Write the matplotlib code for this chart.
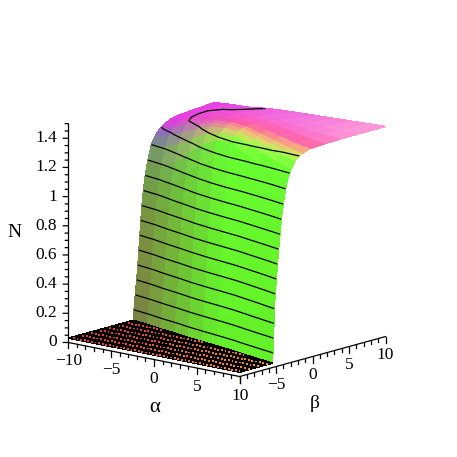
import numpy as np
import matplotlib
matplotlib.use("Agg")
import matplotlib.pyplot as plt
from mpl_toolkits.mplot3d import proj3d

plt.rcParams['font.family'] = ['Liberation Serif', 'DejaVu Sans']

# alpha rows of the surface, and the beta where the wall starts on each row
alpha = [-10, -8, -6, -4, -2, 0, 2, 4, 6, 8, 10]
wall = [-1.1, -1.5, -2.0, -2.4, -2.9, -3.3, -3.7, -4.1, -4.6, -5.05, -5.5]
# mesh columns: beta=-10, then steps from the wall, then fractions of what is left up to beta=10
wall_steps = [0, .3, .6, .9, 1.2, 1.6, 2, 2.5, 3, 3.5, 4, 5]
tail_steps = [.2, .4, .6, .8, 1]

# heights, one list per alpha row
n_alpha_m10 = [.03, .03, .20, .36, .58, .80, .98, 1.09, 1.20, 1.25, 1.285, 1.305, 1.335,
               1.35, 1.355, 1.36, 1.365, 1.37]
n_alpha_m8 = [.03, .03, .20, .38, .60, .80, .98, 1.10, 1.21, 1.28, 1.32, 1.345, 1.375,
              1.385, 1.39, 1.39, 1.385, 1.38]
n_alpha_m6 = [.03, .03, .22, .42, .66, .86, 1.02, 1.15, 1.26, 1.33, 1.38, 1.405, 1.42,
              1.425, 1.42, 1.405, 1.39, 1.385]
n_alpha_m4 = [.03, .03, .25, .48, .74, .95, 1.12, 1.24, 1.33, 1.385, 1.41, 1.425, 1.445,
              1.45, 1.445, 1.43, 1.415, 1.40]
n_alpha_m2 = [.03, .03, .27, .52, .80, 1.02, 1.20, 1.32, 1.39, 1.43, 1.45, 1.46, 1.47,
              1.47, 1.46, 1.445, 1.425, 1.41]
n_alpha_0 = [.03, .03, .28, .55, .84, 1.08, 1.27, 1.38, 1.425, 1.45, 1.465, 1.475, 1.48,
             1.475, 1.465, 1.45, 1.43, 1.415]
n_alpha_2 = [.03, .03, .25, .52, .82, 1.08, 1.28, 1.39, 1.43, 1.455, 1.47, 1.475, 1.48,
             1.475, 1.46, 1.445, 1.43, 1.42]
n_alpha_4 = [.03, .03, .25, .50, .78, 1.02, 1.22, 1.34, 1.405, 1.43, 1.445, 1.455, 1.465,
             1.46, 1.45, 1.44, 1.43, 1.425]
n_alpha_6 = [.03, .03, .28, .52, .78, .98, 1.16, 1.28, 1.37, 1.41, 1.425, 1.44, 1.45,
             1.45, 1.44, 1.435, 1.43, 1.43]
n_alpha_8 = [.03, .03, .35, .58, .80, .98, 1.14, 1.25, 1.34, 1.385, 1.405, 1.42, 1.435,
             1.44, 1.44, 1.44, 1.435, 1.435]
n_alpha_10 = [.03, .03, .45, .66, .84, 1.0, 1.15, 1.25, 1.32, 1.37, 1.395, 1.41, 1.43,
              1.435, 1.44, 1.44, 1.44, 1.44]

levels = [.1, .2, .3, .4, .5, .6, .7, .8, .9, 1.0, 1.1, 1.2, 1.3, 1.4]

alpha_major = [-10, -5, 0, 5, 10]
alpha_labels = ['\u221210', '\u22125', '0', '5', '10']
beta_major = [-5, 0, 5, 10]
beta_labels = ['\u22125', '0', '5', '10']
n_major = [0, .2, .4, .6, .8, 1.0, 1.2, 1.4]
n_labels = ['0', '0.2', '0.4', '0.6', '0.8', '1', '1.2', '1.4']

N = np.array([n_alpha_m10, n_alpha_m8, n_alpha_m6, n_alpha_m4, n_alpha_m2, n_alpha_0,
              n_alpha_2, n_alpha_4, n_alpha_6, n_alpha_8, n_alpha_10])

# mesh follows the wall so the facets stay straight along it
A = np.repeat(np.array(alpha, float)[:, None], N.shape[1], axis=1)
B = np.zeros_like(N)
for i, w in enumerate(wall):
    last = w + wall_steps[-1]
    B[i] = [-10] + [w + d for d in wall_steps] + [last + f * (10 - last) for f in tail_steps]

# colour stops: distance from the wall -> rgb, far left side and near right side
left_d = [0, .8, 1.6, 2.4, 3.0, 4.0, 6]
left_rgb = np.array([[125, 120, 70], [125, 135, 65], [115, 150, 75], [115, 145, 110],
                     [115, 115, 180], [215, 65, 225], [230, 60, 230]]) / 255
right_d = [0, 1.7, 2.0, 2.5, 3.1, 4.2, 8]
right_rgb = np.array([[100, 240, 40], [105, 255, 50], [140, 255, 70], [215, 225, 100],
                      [250, 170, 130], [255, 95, 165], [245, 100, 215]]) / 255
back_left = np.array([230, 60, 230]) / 255
back_right = np.array([255, 155, 215]) / 255


def stops(v, xs, rgb):
    return np.stack([np.interp(v, xs, rgb[:, i]) for i in range(3)], axis=-1)


# one colour for each facet
NF = (N[:-1, :-1] + N[1:, :-1] + N[:-1, 1:] + N[1:, 1:]) / 4
AF = (A[:-1, :-1] + A[1:, :-1] + A[:-1, 1:] + A[1:, 1:]) / 4
BF = (B[:-1, :-1] + B[1:, :-1] + B[:-1, 1:] + B[1:, 1:]) / 4
DF = BF - np.interp(AF, alpha, wall)
t = np.clip((AF + 10) / 12, 0, 1)[..., None]
stretch = 1 + 0.5 * np.clip(AF, 0, 10) / 10
col = (1 - t) * stops(DF, left_d, left_rgb) + t * stops(DF / stretch, right_d, right_rgb)
u = ((AF + 10) / 20)[..., None]
w = np.clip((DF - 5) / 6, 0, 1)[..., None]
col = (1 - w) * col + w * ((1 - u) * back_left + u * back_right)
col[NF < 0.07] = 0

fig = plt.figure(figsize=(4.57, 4.57), dpi=100)
ax = fig.add_axes([-0.017, -0.017, 1, 1], projection='3d', computed_zorder=False)
ax.set_proj_type('ortho')
ax.view_init(elev=13.5, azim=-49.6)
ax.set_box_aspect((1, 1, 1), zoom=0.828)
ax.set_xlim(-10, 10, view_margin=0)
ax.set_ylim(-10, 10, view_margin=0)
ax.set_zlim(0, 1.5, view_margin=0)
ax.set_xticks([])
ax.set_yticks([])
ax.set_zticks([])
ax.set_axis_off()
ax.patch.set_alpha(0)

ax.plot_surface(A, B, N, facecolors=col, rstride=1, cstride=1, shade=False,
                linewidth=0.3, antialiased=False, zorder=1)

# dotted texture of the floor
fa, fb = np.meshgrid(np.arange(-9.6, 10, 0.42), np.arange(-9.7, 0, 1.25))
keep = fb < np.interp(fa, alpha, wall) - 0.1
s = ((fa[keep] + 10) / 20)[..., None]
dots = (1 - s) * np.array([.88, .20, .27]) + s * np.array([.96, .58, .16])
ax.scatter(fa[keep], fb[keep], np.full(keep.sum(), 0.03), c=dots, s=1.8, marker='s',
           linewidths=0, depthshade=False, zorder=2)

ax.contour(A, B, N, levels=levels, colors='k', linewidths=0.9, zorder=3)

# axes and ticks are drawn by hand, outward as in the original
PX = 20 / 225
PZ = 1.5 / (225 * np.cos(np.radians(13.5)))
LX, LY = -0.762 * PX, -0.648 * PX  # one pixel to the left on screen
kw = dict(color='k', lw=0.9, zorder=4)

ax.plot([-10, 10], [-10, -10], [0, 0], **kw)
ax.plot([10, 10], [-10, 10], [0, 0], **kw)
ax.plot([-10, -10], [-10, -10], [0, 1.5], **kw)

for v in np.arange(-10, 11):
    ln = 6 if v % 5 == 0 else 3
    ax.plot([v, v], [-10, -10], [0, -ln * PZ], **kw)
    ax.plot([10, 10], [v, v], [0, -ln * PZ], **kw)
for v in np.arange(0, 31):
    ln = 5 if v % 4 == 0 else 3
    z = v * 0.05
    ax.plot([-10, -10 + ln * LX], [-10, -10 + ln * LY], [z, z], **kw)


# tick labels as plain 2d text at the projected spot
def label3d(x, y, z, s, ha='center'):
    px, py, _ = proj3d.proj_transform(x, y, z, ax.get_proj())
    ax.text2D(px, py, s, transform=ax.transData, fontsize=12.5, ha=ha, va='center', zorder=5)


for v, lab in zip(alpha_major, alpha_labels):
    label3d(v, -10, -19 * PZ, lab)
for v, lab in zip(beta_major, beta_labels):
    label3d(10, v, -18 * PZ, lab)
for v, lab in zip(n_major, n_labels):
    label3d(-10 + 11 * LX, -10 + 11 * LY, v, lab, ha='right')

fig.text(14 / 457, 1 - 233 / 457, 'N', fontsize=14, ha='center', va='center')
fig.text(155 / 457, 1 - 407 / 457, '\u03b1', fontsize=15, ha='center', va='center')
fig.text(315 / 457, 1 - 403 / 457, '\u03b2', fontsize=14, ha='center', va='center')

fig.savefig('out.png', dpi=100)
